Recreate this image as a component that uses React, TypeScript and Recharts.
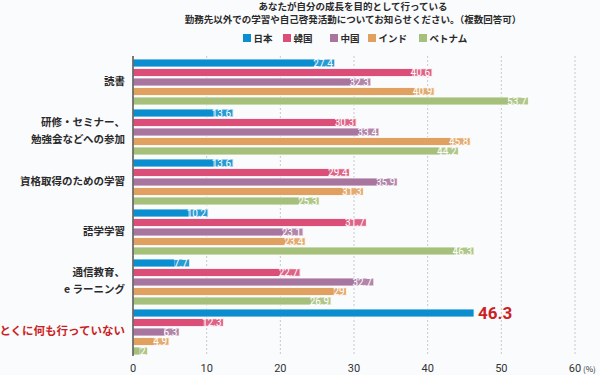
import React from 'react';
import { BarChart, Bar, XAxis, YAxis, CartesianGrid, LabelList } from 'recharts';

const categories = ['読書', '研修・セミナー、\n勉強会などへの参加', '資格取得のための学習', '語学学習', '通信教育、\ne ラーニング', 'とくに何も行っていない'];
const seriesNames = ['日本', '韓国', '中国', 'インド', 'ベトナム'];
const japan = [27.4, 13.6, 13.6, 10.2, 7.7, 46.3];
const korea = [40.6, 30.3, 29.4, 31.7, 22.7, 12.3];
const china = [32.3, 33.4, 35.9, 23.1, 32.7, 6.3];
const india = [40.9, 45.8, 31.3, 23.4, 29, 4.9];
const vietnam = [53.7, 44.2, 25.3, 46.3, 26.9, 2];
const xTicks = [0, 10, 20, 30, 40, 50, 60];
const titleLines = ['あなたが自分の成長を目的として行っている', '勤務先以外での学習や自己啓発活動についてお知らせください。（複数回答可）'];

const colors = ['#0a8ecf', '#da4e77', '#a8759f', '#e0a060', '#a4c07a'];
const keys = ['jp', 'kr', 'cn', 'in', 'vn'];
const legendX = [243, 283, 330, 368, 419];

const data = categories.map((c, i) => ({
  cat: c,
  jp: japan[i],
  kr: korea[i],
  cn: china[i],
  in: india[i],
  vn: vietnam[i],
}));

const JP = '"Noto Sans CJK JP", "Noto Sans", sans-serif';
const NUM = '"Liberation Sans Narrow", "Roboto", sans-serif';

const makeLabel = (seriesIdx: number) => (props: any) => {
  const { x, y, width, height, value, index } = props;
  const lastIdx = categories.length - 1;
  if (seriesIdx === 0 && index === lastIdx) {
    return (
      <text x={x + width + 4} y={y + height / 2 + 6} fill="#cc1f24" fontSize={17} fontWeight="bold" fontFamily={NUM}>
        {value}
      </text>
    );
  }
  const str = String(value);
  const digits = str.replace('.', '').length;
  const dots = str.length - digits;
  const tw = digits * 4.6 + dots * 2.4 + 3;
  return (
    <g>
      <rect x={x + width - tw - 0.5} y={y + 0.6} width={tw} height={height - 1.2} fill="rgba(255,255,255,0.12)" stroke="rgba(255,255,255,0.55)" strokeWidth={0.5} />
      <text x={x + width - 2} y={y + height / 2 + 3.6} fill="#ffffff" fontSize={10} textAnchor="end" fontFamily={NUM}>
        {str}
      </text>
    </g>
  );
};

const CatTick = (props: any) => {
  const { y, payload, index } = props;
  const lines = String(payload.value).split('\n');
  const last = index === categories.length - 1;
  const fs = last ? 11.5 : 10.5;
  const lh = 17;
  const startY = y - ((lines.length - 1) * lh) / 2 + fs * 0.36;
  return (
    <g>
      {lines.map((l, i) => (
        <text key={i} x={125} y={startY + i * lh} textAnchor="end" fontSize={fs} fontWeight="bold" fill={last ? '#cc1f24' : '#2a2a2a'} fontFamily={JP} style={{ whiteSpace: 'pre' }}>
          {l}
        </text>
      ))}
    </g>
  );
};

const XTick = (props: any) => {
  const { x, y, payload } = props;
  return (
    <g>
      <text x={x} y={y + 8} textAnchor="middle" fontSize={11} fill="#333" fontFamily={NUM}>
        {payload.value}
      </text>
      {payload.value === 60 && (
        <text x={x + 8} y={y + 8} fontSize={8} fill="#333" fontFamily={JP}>
          (%)
        </text>
      )}
    </g>
  );
};

export default function App() {
  return (
    <div style={{ position: 'absolute', left: 0, top: 0, width: 600, height: 375, background: '#fafbfd', fontFamily: JP }}>
      {titleLines.map((t, i) => (
        <div key={i} style={{ position: 'absolute', left: 0, top: 1 + i * 12.5, width: 706, textAlign: 'center', fontSize: 9.5, fontWeight: 'bold', color: '#2a2a2a', lineHeight: '11px', whiteSpace: 'nowrap' }}>
          {t}
        </div>
      ))}
      {seriesNames.map((n, i) => (
        <div key={n} style={{ position: 'absolute', left: legendX[i], top: 32, display: 'flex', alignItems: 'center', fontSize: 9.5, fontWeight: 'bold', color: '#2a2a2a', lineHeight: '12px', whiteSpace: 'nowrap' }}>
          <span style={{ display: 'inline-block', width: 7.5, height: 7.5, background: colors[i], marginRight: 3 }} />
          <span>{n}</span>
        </div>
      ))}
      <BarChart
        width={600}
        height={375}
        data={data}
        layout="vertical"
        margin={{ top: 56, right: 25, bottom: 0, left: 0 }}
        barCategoryGap={3}
        barGap={1.5}
        style={{ position: 'absolute', left: 0, top: 0 }}
      >
        <CartesianGrid horizontal={false} vertical={true} stroke="#c8c8c8" strokeDasharray="2 2" />
        <XAxis
          type="number"
          domain={[0, 60]}
          ticks={xTicks}
          axisLine={false}
          tickLine={false}
          tick={<XTick />}
          height={19}
          interval={0}
        />
        <YAxis
          type="category"
          dataKey="cat"
          width={133}
          axisLine={{ stroke: '#555', strokeWidth: 1.5 }}
          tickLine={false}
          tick={<CatTick />}
          interval={0}
        />
        {keys.map((k, i) => (
          <Bar key={k} dataKey={k} fill={colors[i]} stroke="#ffffff" strokeWidth={0.8} isAnimationActive={false}>
            <LabelList dataKey={k} content={makeLabel(i)} />
          </Bar>
        ))}
      </BarChart>
    </div>
  );
}
